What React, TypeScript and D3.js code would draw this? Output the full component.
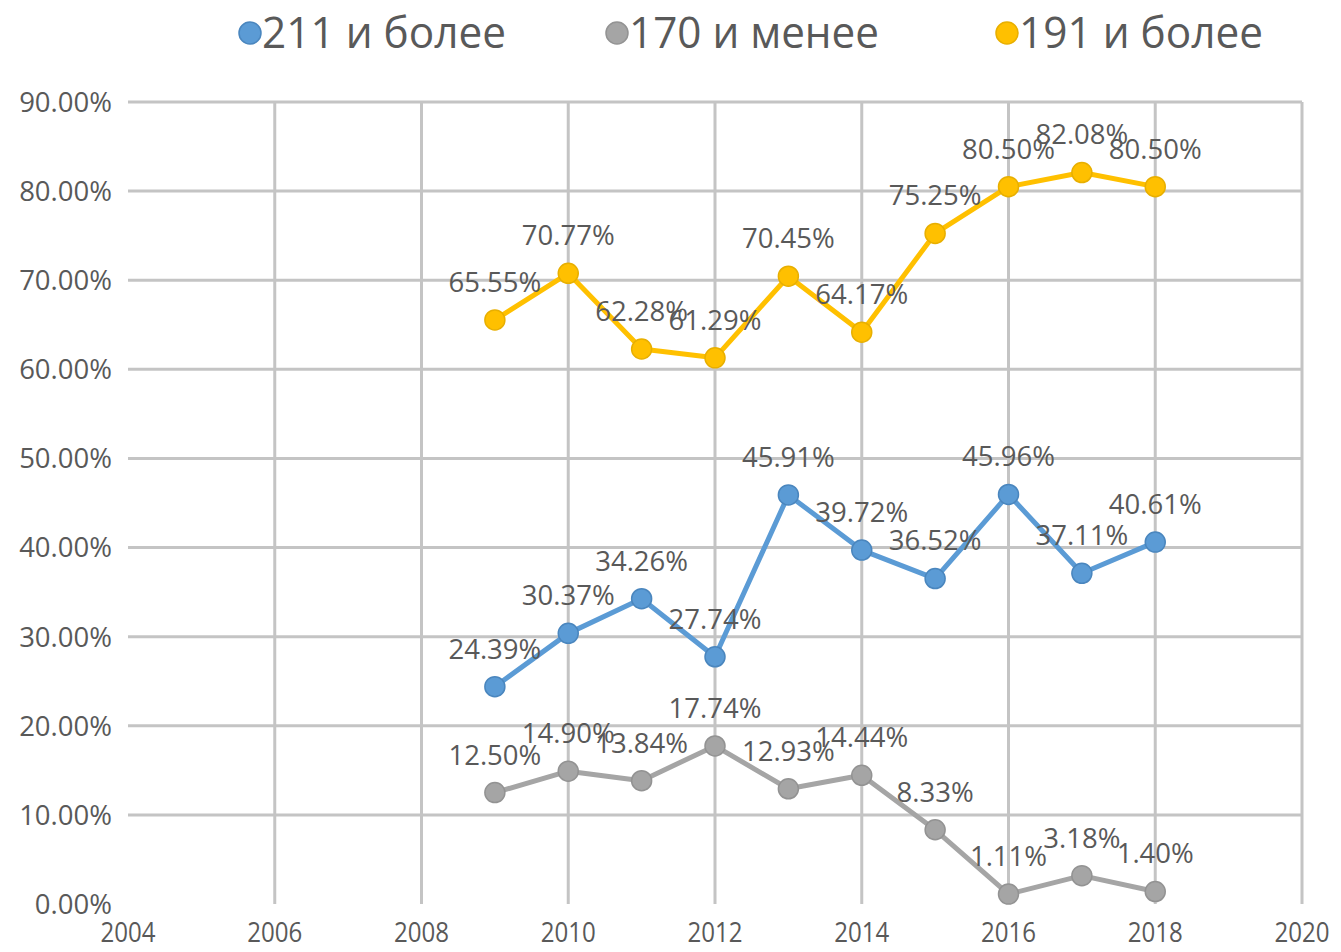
import React from "react";
import * as d3 from "d3";

const years = [2009, 2010, 2011, 2012, 2013, 2014, 2015, 2016, 2017, 2018];
const s211 = [24.39, 30.37, 34.26, 27.74, 45.91, 39.72, 36.52, 45.96, 37.11, 40.61];
const s170 = [12.5, 14.9, 13.84, 17.74, 12.93, 14.44, 8.33, 1.11, 3.18, 1.4];
const s191 = [65.55, 70.77, 62.28, 61.29, 70.45, 64.17, 75.25, 80.5, 82.08, 80.5];
const xTicks = [2004, 2006, 2008, 2010, 2012, 2014, 2016, 2018, 2020];
const yTicks = [0, 10, 20, 30, 40, 50, 60, 70, 80, 90];

const series = [
  { name: "211 и более", values: s211, color: "#5B9BD5", edge: "#4A86BE", legendX: 250, textW: 244 },
  { name: "170 и менее", values: s170, color: "#A5A5A5", edge: "#939393", legendX: 617, textW: 250 },
  { name: "191 и более", values: s191, color: "#FFC000", edge: "#E8AF00", legendX: 1007, textW: 244 },
];

const width = 1341;
const height = 952;
const font = "'Open Sans', 'DejaVu Sans', sans-serif";
const textColor = "#595959";

const App = () => {
  const x = d3.scaleLinear().domain([2004, 2020]).range([128, 1302]);
  const y = d3.scaleLinear().domain([0, 90]).range([904, 102]);

  const line = d3
    .line<number>()
    .x((_, i) => x(years[i]))
    .y((d) => y(d));

  return (
    <svg
      width={width}
      height={height}
      style={{ position: "absolute", left: 0, top: 0, background: "#fff" }}
    >
      {/* grid */}
      {yTicks
        .filter((t) => t > 0)
        .map((t) => (
          <line key={"h" + t} x1={x(2004)} x2={x(2020)} y1={y(t)} y2={y(t)} stroke="#C4C4C4" strokeWidth={3} />
        ))}
      {xTicks
        .filter((t) => t > 2004)
        .map((t) => (
          <line key={"v" + t} x1={x(t)} x2={x(t)} y1={y(90)} y2={y(0)} stroke="#C4C4C4" strokeWidth={3} />
        ))}

      {/* y axis labels */}
      {yTicks.map((t) => (
        <text
          key={"yl" + t}
          x={112}
          y={y(t)}
          dy="0.36em"
          textAnchor="end"
          fontFamily={font}
          fontSize={27.5}
          fill={textColor}
        >
          {t.toFixed(2) + "%"}
        </text>
      ))}

      {/* x axis labels */}
      {xTicks.map((t) => (
        <g key={"xl" + t} transform={`translate(${x(t)}, 942) scale(0.86, 1)`}>
          <text textAnchor="middle" fontFamily={font} fontSize={28} fill={textColor}>
            {t}
          </text>
        </g>
      ))}

      {/* series */}
      {series.map((s) => (
        <g key={s.name}>
          <path d={line(s.values) || ""} fill="none" stroke={s.color} strokeWidth={5} strokeLinejoin="round" />
          {s.values.map((v, i) => (
            <circle key={i} cx={x(years[i])} cy={y(v)} r={10} fill={s.color} stroke={s.edge} strokeWidth={1.5} />
          ))}
        </g>
      ))}

      {/* data labels */}
      {series.map((s) =>
        s.values.map((v, i) => (
          <text
            key={s.name + "l" + i}
            x={x(years[i])}
            y={y(v) - 38}
            dy="0.36em"
            textAnchor="middle"
            fontFamily={font}
            fontSize={27.5}
            fill={textColor}
          >
            {v.toFixed(2) + "%"}
          </text>
        ))
      )}

      {/* legend */}
      {series.map((s) => (
        <g key={"lg" + s.name}>
          <circle cx={s.legendX} cy={33} r={11} fill={s.color} stroke={s.edge} strokeWidth={1.5} />
          <text
            x={s.legendX + 12}
            y={48}
            fontFamily={font}
            fontSize={44}
            fill={textColor}
            textLength={s.textW}
            lengthAdjust="spacingAndGlyphs"
          >
            {s.name}
          </text>
        </g>
      ))}
    </svg>
  );
};

export default App;
